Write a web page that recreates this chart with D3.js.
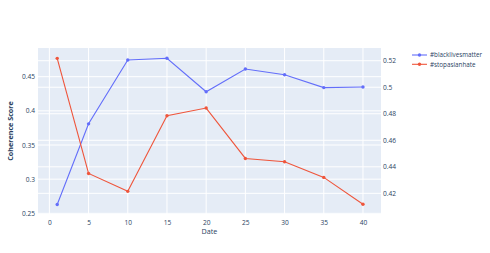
<!DOCTYPE html>
<html><head><meta charset="utf-8">
<script src="https://cdn.jsdelivr.net/npm/d3@7"></script>
<style>body{margin:0;background:#fff}svg{display:block}text{font-family:"Open Sans",sans-serif}</style>
</head><body><svg id="c" width="490" height="253"></svg>
<script>
const dates = [1, 5, 10, 15, 20, 25, 30, 35, 40];
const blm = [0.263, 0.381, 0.4745, 0.477, 0.428, 0.4612, 0.4529, 0.434, 0.435];
const sah = [0.5218, 0.435, 0.4215, 0.4785, 0.4843, 0.4463, 0.4438, 0.432, 0.4117];
const xTicks = [0, 5, 10, 15, 20, 25, 30, 35, 40];
const yLeftTicks = [0.25, 0.3, 0.35, 0.4, 0.45];
const yRightTicks = [0.42, 0.44, 0.46, 0.48, 0.5, 0.52];
const seriesNames = ["#blacklivesmatter", "#stopasianhate"];
const colors = ["#636efa", "#EF553B"];

const svg = d3.select("#c");
const L = 38, R = 381, T = 48, B = 214;
const x = d3.scaleLinear().domain([-1.45, 42.3]).range([L, R]);
const yL = d3.scaleLinear().domain([0.249, 0.492]).range([B, T]);
const yR = d3.scaleLinear().domain([0.4044, 0.5296]).range([B, T]);
const fc = "#2a3f5f", fs = 6.6;

svg.append("rect").attr("x", L).attr("y", T).attr("width", R - L).attr("height", B - T).attr("fill", "#e5ecf6");
const g = svg.append("g");
xTicks.forEach(t => g.append("line").attr("x1", x(t)).attr("x2", x(t)).attr("y1", T).attr("y2", B).attr("stroke", "#fff").attr("stroke-width", 1));
yLeftTicks.forEach(t => g.append("line").attr("x1", L).attr("x2", R).attr("y1", yL(t)).attr("y2", yL(t)).attr("stroke", "#fff").attr("stroke-width", 1));
yRightTicks.forEach(t => g.append("line").attr("x1", L).attr("x2", R).attr("y1", yR(t)).attr("y2", yR(t)).attr("stroke", "#fff").attr("stroke-width", 1));

const xa = svg.append("g").attr("transform", `translate(0,${B})`).call(d3.axisBottom(x).tickValues(xTicks).tickSize(0).tickPadding(6).tickFormat(d3.format("d")));
const yla = svg.append("g").attr("transform", `translate(${L},0)`).call(d3.axisLeft(yL).tickValues(yLeftTicks).tickSize(0).tickPadding(3).tickFormat(d => d3.format("")(+d.toFixed(2))));
const yra = svg.append("g").attr("transform", `translate(${R},0)`).call(d3.axisRight(yR).tickValues(yRightTicks).tickSize(0).tickPadding(2).tickFormat(d => d3.format("")(+d.toFixed(2))));
[xa, yla, yra].forEach(a => {
  a.select(".domain").remove();
  a.selectAll("text").attr("fill", fc).style("font-size", fs + "px").style("font-family", '"Open Sans",sans-serif');
});

const series = [blm, sah];
const ys = [yL, yR];
series.forEach((s, i) => {
  const line = d3.line().x((d, j) => x(dates[j])).y(d => ys[i](d));
  svg.append("path").datum(s).attr("d", line).attr("fill", "none").attr("stroke", colors[i]).attr("stroke-width", 1.1);
  svg.append("g").selectAll("circle").data(s).join("circle")
    .attr("cx", (d, j) => x(dates[j])).attr("cy", d => ys[i](d)).attr("r", 1.7).attr("fill", colors[i]);
});

svg.append("text").attr("x", (L + R) / 2).attr("y", 234).attr("text-anchor", "middle").attr("fill", fc).style("font-size", "7.2px").text("Date");
svg.append("text").attr("transform", `translate(13,${(T + B) / 2}) rotate(-90)`).attr("text-anchor", "middle").attr("fill", fc).style("font-size", "7.2px").style("font-weight", "bold").text("Coherence Score");

seriesNames.forEach((n, i) => {
  const yy = 55 + i * 9.3;
  svg.append("line").attr("x1", 412).attr("x2", 427).attr("y1", yy).attr("y2", yy).attr("stroke", colors[i]).attr("stroke-width", 1.1);
  svg.append("circle").attr("cx", 419.5).attr("cy", yy).attr("r", 1.7).attr("fill", colors[i]);
  svg.append("text").attr("x", 430).attr("y", yy).attr("dy", "0.35em").attr("fill", fc).style("font-size", "6.3px").text(n);
});
</script></body></html>
